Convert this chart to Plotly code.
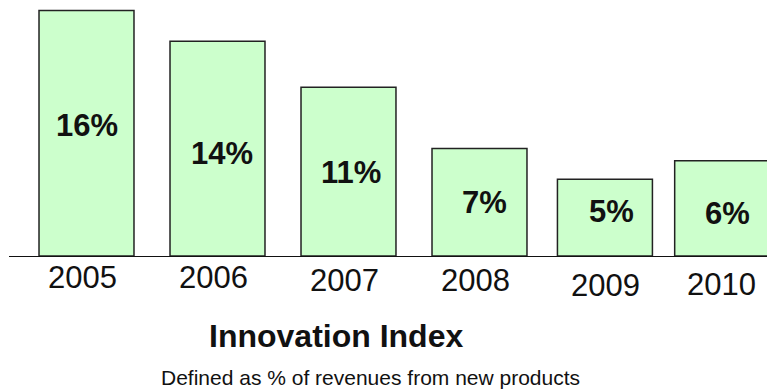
import plotly.graph_objects as go

# ---- data ----
years = ["2005", "2006", "2007", "2008", "2009", "2010"]
values = [16, 14, 11, 7, 5, 6.2]          # % of revenues from new products (bar heights)
labels = [f"{round(v)}%" for v in values]
title_text = "Innovation Index"
subtitle_text = "Defined as % of revenues from new products"

# ---- styling / layout tweaks (not data) ----
FONT = "Arial, Liberation Sans, sans-serif"
bar_width = 0.725
bar_offsets = [-0.3625, -0.3625, -0.3625, -0.3625, -0.405, -0.51]
val_xshift = [0, 4, 2, 4.5, 0.5, -13.5]
val_yshift = [8, -4.5, -1, -0.5, 6, -5.5]
yr_xshift = [-4, -4, -4, -4, -5.5, -19.5]
yr_yshift = [-21, -21, -24, -24, -29.5, -28]

fig = go.Figure()
fig.add_trace(go.Bar(
    x=years, y=values,
    width=bar_width,
    offset=bar_offsets,
    marker=dict(color="#CCFFCC", line=dict(color="#222222", width=1.5)),
    hoverinfo="skip",
    cliponaxis=True,
))

annotations = []
for i, (yr, v, lab) in enumerate(zip(years, values, labels)):
    annotations.append(dict(
        x=i, y=v / 2, xref="x", yref="y", text=f"<b>{lab}</b>", showarrow=False,
        xanchor="center", yanchor="middle", xshift=val_xshift[i], yshift=val_yshift[i],
        font=dict(family=FONT, size=31, color="#111111"),
    ))
    annotations.append(dict(
        x=i, y=0, xref="x", yref="y", text=yr, showarrow=False,
        xanchor="center", yanchor="middle", xshift=yr_xshift[i], yshift=yr_yshift[i],
        font=dict(family=FONT, size=31, color="#111111"),
    ))

annotations.append(dict(
    x=0.4314, y=0, xref="paper", yref="paper", text=f"<b>{title_text}</b>", showarrow=False,
    xanchor="center", yanchor="middle", yshift=-80,
    font=dict(family=FONT, size=32, color="#111111"),
))
annotations.append(dict(
    x=0.4769, y=0, xref="paper", yref="paper", text=subtitle_text, showarrow=False,
    xanchor="center", yanchor="middle", yshift=-121,
    font=dict(family=FONT, size=21, color="#111111"),
))

fig.update_layout(
    width=767, height=389,
    margin=dict(l=9, r=0, t=0, b=133, pad=0),
    paper_bgcolor="white", plot_bgcolor="white",
    showlegend=False,
    annotations=annotations,
    xaxis=dict(
        type="category", range=[-0.5916, 5.1947],
        showticklabels=False, ticks="", showgrid=False, zeroline=False,
        showline=True, linecolor="#111111", linewidth=1,
        fixedrange=True,
    ),
    yaxis=dict(
        range=[0, 16.68], visible=False, showgrid=False, zeroline=False,
        fixedrange=True,
    ),
)

fig.write_html("out.html", config={"displayModeBar": False})
